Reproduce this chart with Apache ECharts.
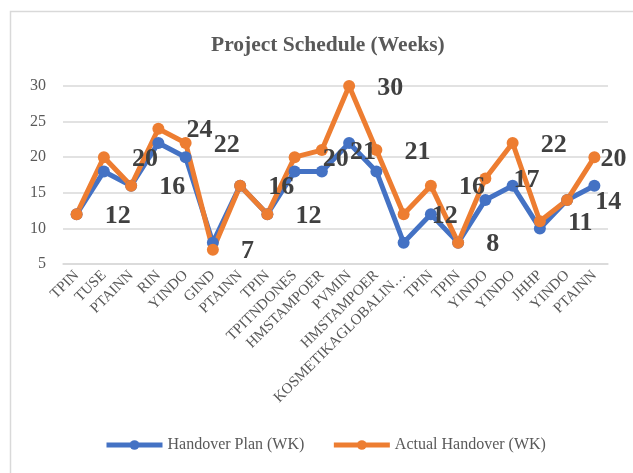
<!DOCTYPE html>
<html>
<head>
<meta charset="utf-8">
<script src="https://cdn.jsdelivr.net/npm/echarts@6/dist/echarts.min.js"></script>
<style>
html,body{margin:0;padding:0;background:#fff;}
#chart{width:633px;height:473px;}
</style>
</head>
<body>
<div id="chart"></div>
<script>
var categories = ["TPIN","TUSE","PTAINN","RIN","YINDO","GIND","PTAINN","TPIN","TPITNDONES","HMSTAMPOER","PVMIN","HMSTAMPOER","KOSMETIKAGLOBALIN\u2026","TPIN","TPIN","YINDO","YINDO","JHHP","YINDO","PTAINN"];
var handoverPlan = [12,18,16,22,20,8,16,12,18,18,22,18,8,12,8,14,16,10,14,16];
var actualHandover = [12,20,16,24,22,7,16,12,20,21,30,21,12,16,8,17,22,11,14,20];
var yTicks = {min:5, max:30, interval:5};

var serif = '"Liberation Serif","Times New Roman",serif';
var chart = echarts.init(document.getElementById('chart'));

var actualData = actualHandover.map(function(v, i){
  if (i === actualHandover.length - 1) {
    return {value: v, label: {distance: 0}};
  }
  return v;
});

chart.setOption({
  animation: false,
  graphic: [{
    type: 'rect',
    left: 8, top: 9,
    shape: {width: 700, height: 600},
    style: {fill: 'none', stroke: '#d9d9d9', lineWidth: 1.5},
    z: -10
  }],
  title: {
    text: 'Project Schedule (Weeks)',
    left: 206,
    top: 29,
    textStyle: {fontFamily: serif, fontSize: 21.5, fontWeight: 'bold', color: '#595959'}
  },
  legend: {
    left: 99,
    top: 432,
    itemWidth: 56,
    itemHeight: 12,
    itemGap: 27,
    lineStyle: {width: 5},
    textStyle: {fontFamily: serif, fontSize: 16, color: '#595959'},
    data: ['Handover Plan (WK)', 'Actual Handover (WK)']
  },
  grid: {left: 63, right: 25, top: 86, bottom: 209, containLabel: false},
  xAxis: {
    type: 'category',
    data: categories,
    boundaryGap: true,
    axisLine: {show: true, lineStyle: {color: '#d9d9d9', width: 1.5}},
    axisTick: {show: false},
    axisLabel: {rotate: 45, interval: 0, margin: 9, fontFamily: serif, fontSize: 15, color: '#595959'}
  },
  yAxis: {
    type: 'value',
    min: yTicks.min, max: yTicks.max, interval: yTicks.interval,
    axisLine: {show: false},
    axisTick: {show: false},
    splitLine: {lineStyle: {color: '#d9d9d9', width: 1.5}},
    axisLabel: {margin: 17, fontFamily: serif, fontSize: 16, color: '#595959'}
  },
  series: [
    {
      name: 'Handover Plan (WK)',
      type: 'line',
      data: handoverPlan,
      symbol: 'circle',
      symbolSize: 12,
      lineStyle: {width: 5, color: '#4472C4'},
      itemStyle: {color: '#4472C4'}
    },
    {
      name: 'Actual Handover (WK)',
      type: 'line',
      data: actualData,
      symbol: 'circle',
      symbolSize: 12,
      lineStyle: {width: 5, color: '#ED7D31'},
      itemStyle: {color: '#ED7D31'},
      label: {
        show: true,
        position: 'right',
        distance: 22,
        offset: [0, 2],
        fontFamily: serif,
        fontSize: 26,
        fontWeight: 'bold',
        color: '#404040'
      }
    }
  ]
});
</script>
</body>
</html>
